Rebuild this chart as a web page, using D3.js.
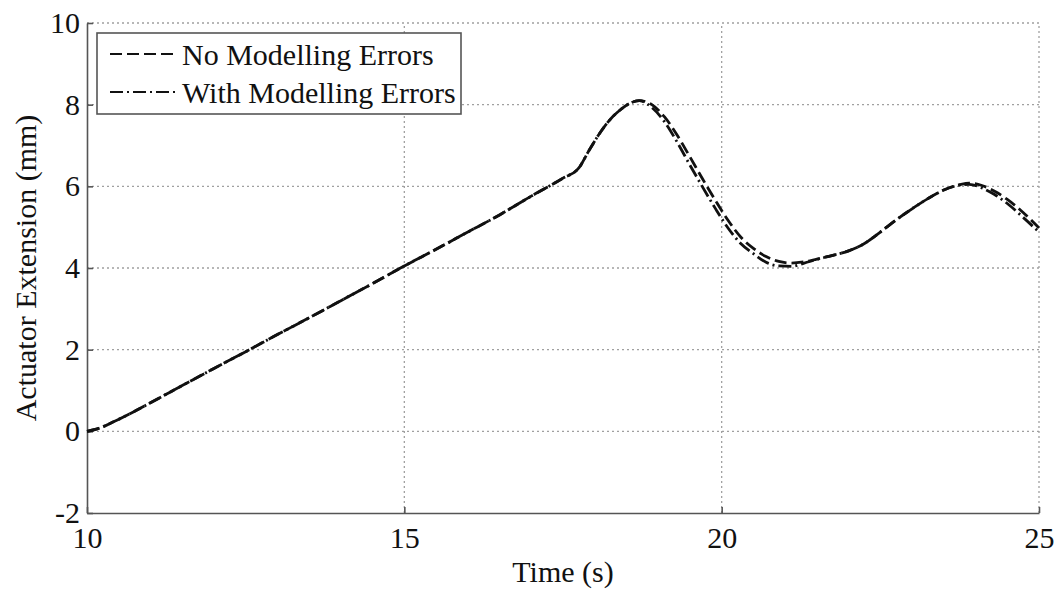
<!DOCTYPE html>
<html>
  <head>
    <meta charset="utf-8">
    <title>Actuator Extension</title>
    <script src="https://d3js.org/d3.v7.min.js"></script>
    <style>
      body { margin: 0; background: #fff; }
      text { font-family: "Liberation Serif", "Times New Roman", serif; fill: #111; }
    </style>
  </head>
  <body>
    <div id="chart"></div>
    <script>

      // time grid (s), shared by both series
      const time = [10, 10.2, 10.4, 10.7, 11, 11.5, 12, 12.5, 13, 13.5, 14, 14.5, 15, 15.5, 16, 16.5, 17, 17.5, 17.75,
        17.9, 18.1, 18.25, 18.4, 18.55, 18.7, 18.9, 19.1, 19.3, 19.5, 19.7, 19.9, 20.1, 20.3, 20.5, 20.7, 20.9,
        21.1, 21.3, 21.5, 21.75, 22, 22.25, 22.5, 22.75, 23, 23.25, 23.5, 23.75, 23.9, 24.1, 24.3, 24.5, 24.75, 25];

      const noErrors = [0, 0.08, 0.22, 0.45, 0.7, 1.12, 1.54, 1.95, 2.37, 2.78, 3.2, 3.62, 4.05, 4.46, 4.88, 5.3, 5.76, 6.2, 6.45,
        6.85, 7.35, 7.65, 7.87, 8.03, 8.1, 8.0, 7.7, 7.25, 6.72, 6.18, 5.66, 5.17, 4.76, 4.48, 4.28, 4.16,
        4.12, 4.15, 4.22, 4.31, 4.42, 4.6, 4.88, 5.18, 5.45, 5.7, 5.91, 6.04, 6.08, 6.02, 5.88, 5.68, 5.36, 4.98];

      const withErrors = [0, 0.08, 0.22, 0.45, 0.7, 1.12, 1.54, 1.95, 2.37, 2.78, 3.2, 3.62, 4.05, 4.46, 4.88, 5.3, 5.76, 6.2, 6.45,
        6.85, 7.35, 7.65, 7.87, 8.03, 8.1, 7.93, 7.58, 7.08, 6.52, 5.98, 5.46, 4.98, 4.6, 4.35, 4.14, 4.05,
        4.04, 4.12, 4.21, 4.31, 4.42, 4.6, 4.88, 5.18, 5.45, 5.7, 5.91, 6.03, 6.05, 5.96, 5.8, 5.58, 5.24, 4.88];

      const xTicks = [10, 15, 20, 25];
      const yTicks = [-2, 0, 2, 4, 6, 8, 10];
      const legendLabels = ["No Modelling Errors", "With Modelling Errors"];
      const dashes = ["12,5", "13,4,2,4"];

      const width = 1058, height = 590;
      const margin = {top: 23, right: 19, bottom: 77, left: 87};
      const fontSize = 30;

      const svg = d3.select("#chart").append("svg")
          .attr("width", width)
          .attr("height", height);

      const x = d3.scaleLinear().domain([10, 25]).range([margin.left, width - margin.right]);
      const y = d3.scaleLinear().domain([-2, 10]).range([height - margin.bottom, margin.top]);

      // dotted grid
      const grid = svg.append("g").attr("stroke", "#a0a0a0").attr("stroke-width", 1.3).attr("stroke-dasharray", "2,3");
      grid.selectAll(".gx").data(xTicks.slice(1)).enter().append("line")
          .attr("x1", d => x(d)).attr("x2", d => x(d))
          .attr("y1", y(-2)).attr("y2", y(10));
      grid.selectAll(".gy").data(yTicks.slice(1)).enter().append("line")
          .attr("x1", x(10)).attr("x2", x(25))
          .attr("y1", d => y(d)).attr("y2", d => y(d));

      // axes: left + bottom, ticks pointing inward
      const xAxis = svg.append("g")
          .attr("transform", `translate(0,${y(-2)})`)
          .call(d3.axisBottom(x).tickValues(xTicks).tickFormat(d => String(d))
            .tickSizeInner(-6).tickSizeOuter(0).tickPadding(13));
      const yAxis = svg.append("g")
          .attr("transform", `translate(${x(10)},0)`)
          .call(d3.axisLeft(y).tickValues(yTicks).tickFormat(d => String(d))
            .tickSizeInner(-6).tickSizeOuter(0).tickPadding(7));

      [xAxis, yAxis].forEach(g => {
        g.attr("font-family", null);
        g.select(".domain").attr("stroke", "#555").attr("stroke-width", 1.6);
        g.selectAll(".tick line").attr("stroke", "#555").attr("stroke-width", 1.6);
        g.selectAll(".tick text").attr("font-size", fontSize).attr("fill", "#111");
      });
      xAxis.selectAll(".tick text").attr("dy", "0.72em");

      // axis titles
      svg.append("text")
          .attr("x", (x(10) + x(25)) / 2)
          .attr("y", 582)
          .attr("text-anchor", "middle")
          .attr("font-size", fontSize)
          .text("Time (s)");
      svg.append("text")
          .attr("transform", `translate(36,${(y(-2) + y(10)) / 2}) rotate(-90)`)
          .attr("text-anchor", "middle")
          .attr("font-size", fontSize)
          .text("Actuator Extension (mm)");

      // curves
      const line = d3.line()
          .x((d, i) => x(time[i]))
          .y(d => y(d))
          .curve(d3.curveMonotoneX);

      [noErrors, withErrors].forEach((series, k) => {
        svg.append("path")
            .attr("d", line(series))
            .attr("fill", "none")
            .attr("stroke", "#111")
            .attr("stroke-width", 2.8)
            .attr("stroke-dasharray", dashes[k]);
      });

      // legend
      const legend = svg.append("g");
      legend.append("rect")
          .attr("x", 97).attr("y", 33)
          .attr("width", 364).attr("height", 81)
          .attr("fill", "#fff")
          .attr("stroke", "#555")
          .attr("stroke-width", 1.6);
      legendLabels.forEach((label, k) => {
        const ly = 54 + k * 38;
        legend.append("line")
            .attr("x1", 110).attr("x2", 176)
            .attr("y1", ly).attr("y2", ly)
            .attr("stroke", "#111")
            .attr("stroke-width", 2.2)
            .attr("stroke-dasharray", dashes[k]);
        legend.append("text")
            .attr("x", 182).attr("y", ly + 11)
            .attr("font-size", fontSize)
            .text(label);
      });

    </script>
  </body>
</html>
